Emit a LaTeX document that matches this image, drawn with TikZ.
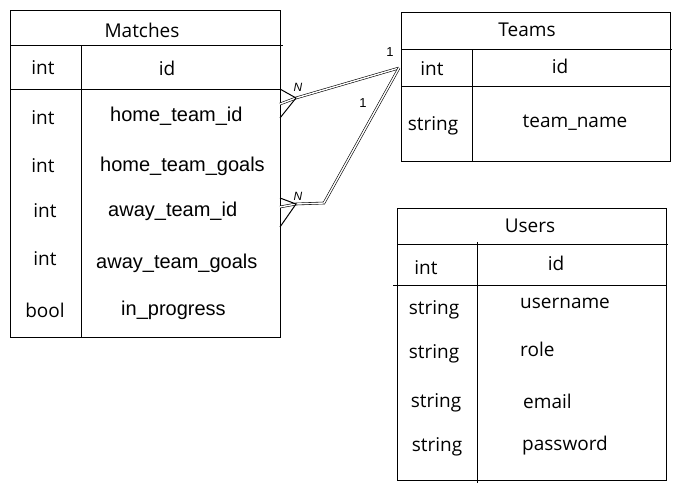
\documentclass[tikz,border=0pt]{standalone}
\usepackage{fontspec}
\setmainfont{Liberation Sans}
\newfontfamily\hand{Open Sans}
\begin{document}
\begin{tikzpicture}[x=1pt,y=-1pt,
  tbl/.style={draw, line width=1.1pt, inner sep=0pt, anchor=north west},
  rule/.style={line width=1pt},
  hw/.style={font=\hand\fontsize{19}{22}\selectfont, inner sep=0pt},
  ar/.style={font=\fontsize{20}{23}\selectfont, inner sep=0pt, anchor=west},
  conn/.style={draw, double, double distance=1.4pt, line width=0.6pt},
  crow/.style={draw, line width=1pt},
  lbl/.style={font=\fontsize{13}{15}\selectfont, inner sep=0pt}]
\useasboundingbox (0,0) rectangle (681,492);
% Matches
\node[tbl, minimum width=270pt, minimum height=327pt] (M) at (10,10) {};
\draw[rule] (10,46) -- (283,46);
\draw[rule] (10,90) -- (280,90);
\draw[rule] (81,46) -- (81,337);
\node[hw] (mt) at (142,30) {Matches};
\node[hw] (m0t) at (43,68) {int};
\node[hw] (m0n) at (167,68) {id};
\node[hw] (m1t) at (43,118) {int};
\node[ar] (m1n) at (110,116) {home\_team\_id};
\node[hw] (m2t) at (43,166) {int};
\node[ar] (m2n) at (100,166) {home\_team\_goals};
\node[hw] (m3t) at (45,211) {int};
\node[ar] (m3n) at (108,211) {away\_team\_id};
\node[hw] (m4t) at (45,259) {int};
\node[ar] (m4n) at (96,263) {away\_team\_goals};
\node[hw] (m5t) at (45,310) {bool};
\node[ar] (m5n) at (121,310) {in\_progress};
% Teams
\node[tbl, minimum width=269pt, minimum height=149pt] (T) at (401,12) {};
\draw[rule] (401,50) -- (672,50);
\draw[rule] (401,87) -- (670,87);
\draw[rule] (472,50) -- (472,161);
\node[hw] (tt) at (527,30) {Teams};
\node[hw] (t0t) at (432,69) {int};
\node[hw] (t0n) at (560,66) {id};
\node[hw] (t1t) at (433,126) {string};
\node[hw] (t1n) at (575,123) {team\_name};
% Users
\node[tbl, minimum width=269pt, minimum height=272pt] (U) at (397,208) {};
\draw[rule] (397,245) -- (668,245);
\draw[rule] (393,286) -- (666,286);
\draw[rule] (477,242) -- (477,483);
\node[hw] (ut) at (530,226) {Users};
\node[hw] (u0t) at (426,268) {int};
\node[hw] (u0n) at (556,263) {id};
\node[hw] (u1t) at (434,310) {string};
\node[hw, anchor=west] (u1n) at (520,303) {username};
\node[hw] (u2t) at (434,354) {string};
\node[hw, anchor=west] (u2n) at (520,349) {role};
\node[hw] (u3t) at (436,403) {string};
\node[hw, anchor=west] (u3n) at (523,401) {email};
\node[hw] (u4t) at (437,447) {string};
\node[hw, anchor=west] (u4n) at (522,446) {password};
% connectors
\coordinate (ts) at (399,68);
\coordinate (c1) at (296,98);
\coordinate (e1) at (280,104);
\coordinate (e1a) at (280,89);
\coordinate (e1b) at (280,118);
\coordinate (k2) at (324,203);
\coordinate (c2) at (296,204);
\coordinate (e2) at (280,207);
\coordinate (e2a) at (280,198);
\coordinate (e2b) at (280,227);
\draw[conn] (ts) -- (c1) -- (e1);
\draw[crow] (e1a) -- (c1) -- (e1b);
\draw[conn] (ts) -- (k2) -- (c2) -- (e2);
\draw[crow] (e2a) -- (c2) -- (e2b);
\node[lbl] (l1) at (390,52) {1};
\node[lbl] (l2) at (363,103) {1};
\node[lbl, font=\itshape\fontsize{12}{14}\selectfont] (n1) at (298,87) {N};
\node[lbl, font=\itshape\fontsize{12}{14}\selectfont] (n2) at (298,196) {N};
\end{tikzpicture}
\end{document}
